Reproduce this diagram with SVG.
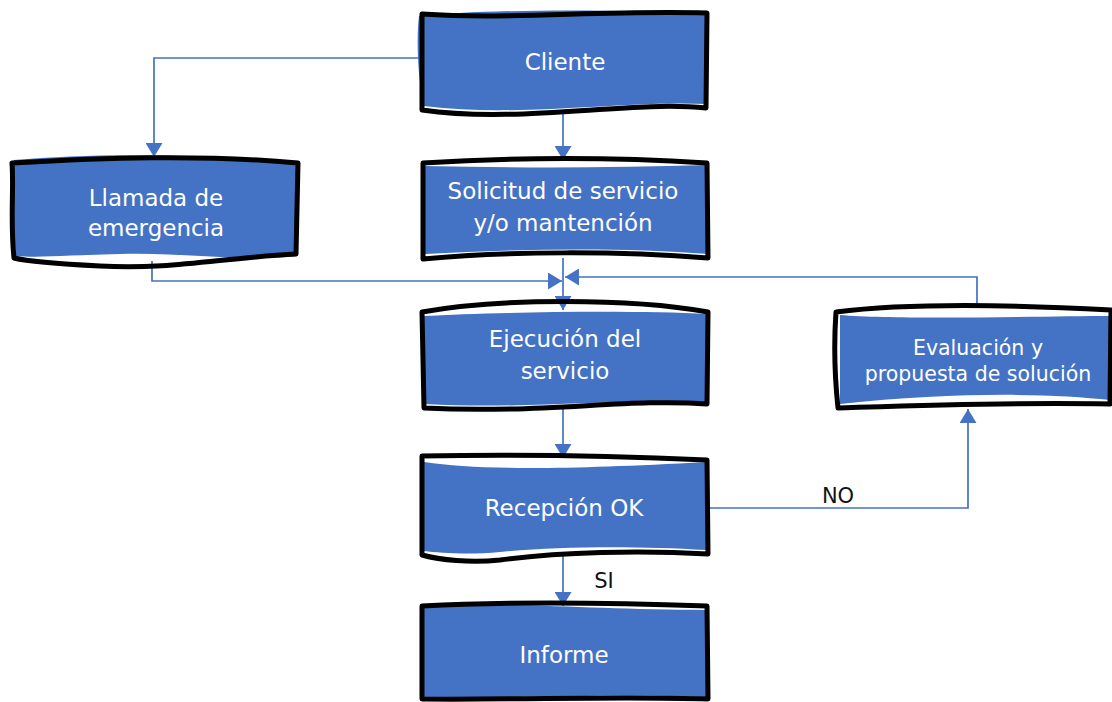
<svg xmlns="http://www.w3.org/2000/svg" width="1112" height="702" viewBox="0 0 1112 702">
  <style>
    .fill { fill: #4472C4; stroke: none; }
    .edge { fill: none; stroke: #000; stroke-width: 5; stroke-linejoin: round; stroke-linecap: round; }
    .lbl { font-family: "DejaVu Sans", "Liberation Sans", sans-serif; font-size: 23px; fill: #ffffff; text-anchor: middle; }
    .small { font-size: 20.5px; }
    .tag { font-family: "DejaVu Sans", "Liberation Sans", sans-serif; font-size: 21px; fill: #111; text-anchor: middle; }
    .conn { fill: none; stroke: #4472C4; stroke-width: 1.7; }
  </style>
  <defs>
    <marker id="arrow" viewBox="0 0 14 17" refX="14" refY="8.5" markerWidth="14" markerHeight="17" markerUnits="userSpaceOnUse" orient="auto">
      <path d="M0,0 L14,8.5 L0,17 Z" fill="#4472C4"/>
    </marker>
  </defs>

  <rect width="1112" height="702" fill="#ffffff"/>

  <!-- connectors -->
  <g id="connectors">
    <path class="conn" d="M420,58 H154 V157" marker-end="url(#arrow)"/>
    <path class="conn" d="M563,112 V160" marker-end="url(#arrow)"/>
    <path class="conn" d="M563,258 V310" marker-end="url(#arrow)"/>
    <path class="conn" d="M152,261 V281 H562" marker-end="url(#arrow)"/>
    <path class="conn" d="M977,308 V277 H565" marker-end="url(#arrow)"/>
    <path class="conn" d="M563,408 V458" marker-end="url(#arrow)"/>
    <path class="conn" d="M707,508 H968 V409" marker-end="url(#arrow)"/>
    <path class="conn" d="M563,556 V606" marker-end="url(#arrow)"/>
    <text class="tag" x="838" y="503">NO</text>
    <text class="tag" x="604" y="588">SI</text>
  </g>

  <!-- nodes -->
  <g id="cliente">
    <path class="fill" d="M419,16 C480,10 600,8 708,14 L708,104 C620,100 520,118 424,106 C418,80 416,40 419,16 Z"/>
    <path class="edge" d="M422,14 C510,20 600,10 707,13 L706,108 C630,100 520,124 422,110 Z"/>
    <text class="lbl" x="565" y="70">Cliente</text>
  </g>

  <g id="llamada">
    <path class="fill" d="M14,160 C100,152 220,154 298,165 L298,256 C240,262 180,252 120,254 C70,255 40,258 16,256 C12,220 14,190 14,160 Z"/>
    <path class="edge" d="M12,163 C100,158 200,154 298,163 L296,254 C220,258 170,270 100,266 C60,264 30,262 14,258 C10,220 14,190 12,163 Z"/>
    <text class="lbl" x="156" y="206">Llamada de</text>
    <text class="lbl" x="156" y="236">emergencia</text>
  </g>

  <g id="solicitud">
    <path class="fill" d="M425,166 C520,168 610,168 708,165 L708,254 C620,247 520,249 425,254 Z"/>
    <path class="edge" d="M423,163 C520,157 610,157 707,163 L708,258 C620,251 510,251 423,259 Z"/>
    <text class="lbl" x="563" y="199">Solicitud de servicio</text>
    <text class="lbl" x="563" y="231">y/o mantención</text>
  </g>

  <g id="ejecucion">
    <path class="fill" d="M422,316 C500,312 630,310 708,314 L708,404 C630,396 540,410 424,404 Z"/>
    <path class="edge" d="M422,312 C500,298 630,298 708,312 L707,404 C630,398 540,414 424,408 Z"/>
    <text class="lbl" x="565" y="347">Ejecución del</text>
    <text class="lbl" x="565" y="379">servicio</text>
  </g>

  <g id="evaluacion">
    <path class="fill" d="M840,315 C900,320 1050,316 1110,316 L1110,400 C1050,393 950,392 840,404 Z"/>
    <path class="edge" d="M836,312 C900,304 1000,304 1111,310 L1110,404 C1000,402 900,406 838,408 C834,370 834,340 836,312 Z"/>
    <text class="lbl small" x="978" y="355">Evaluación y</text>
    <text class="lbl small" x="978" y="381">propuesta de solución</text>
  </g>

  <g id="recepcion">
    <path class="fill" d="M424,462 C480,470 560,470 706,462 L706,550 C640,546 560,546 500,552 C470,555 440,553 424,551 Z"/>
    <path class="edge" d="M422,456 C520,454 620,456 707,460 L708,554 C640,550 560,552 500,560 C470,563 440,560 422,555 Z"/>
    <text class="lbl" x="564" y="516">Recepción OK</text>
  </g>

  <g id="informe">
    <path class="fill" d="M424,606 C520,602 600,610 706,610 L706,697 C620,694 520,698 424,697 Z"/>
    <path class="edge" d="M422,606 C520,601 620,603 707,606 L708,699 C620,696 520,700 422,699 Z"/>
    <text class="lbl" x="564" y="663">Informe</text>
  </g>
</svg>
